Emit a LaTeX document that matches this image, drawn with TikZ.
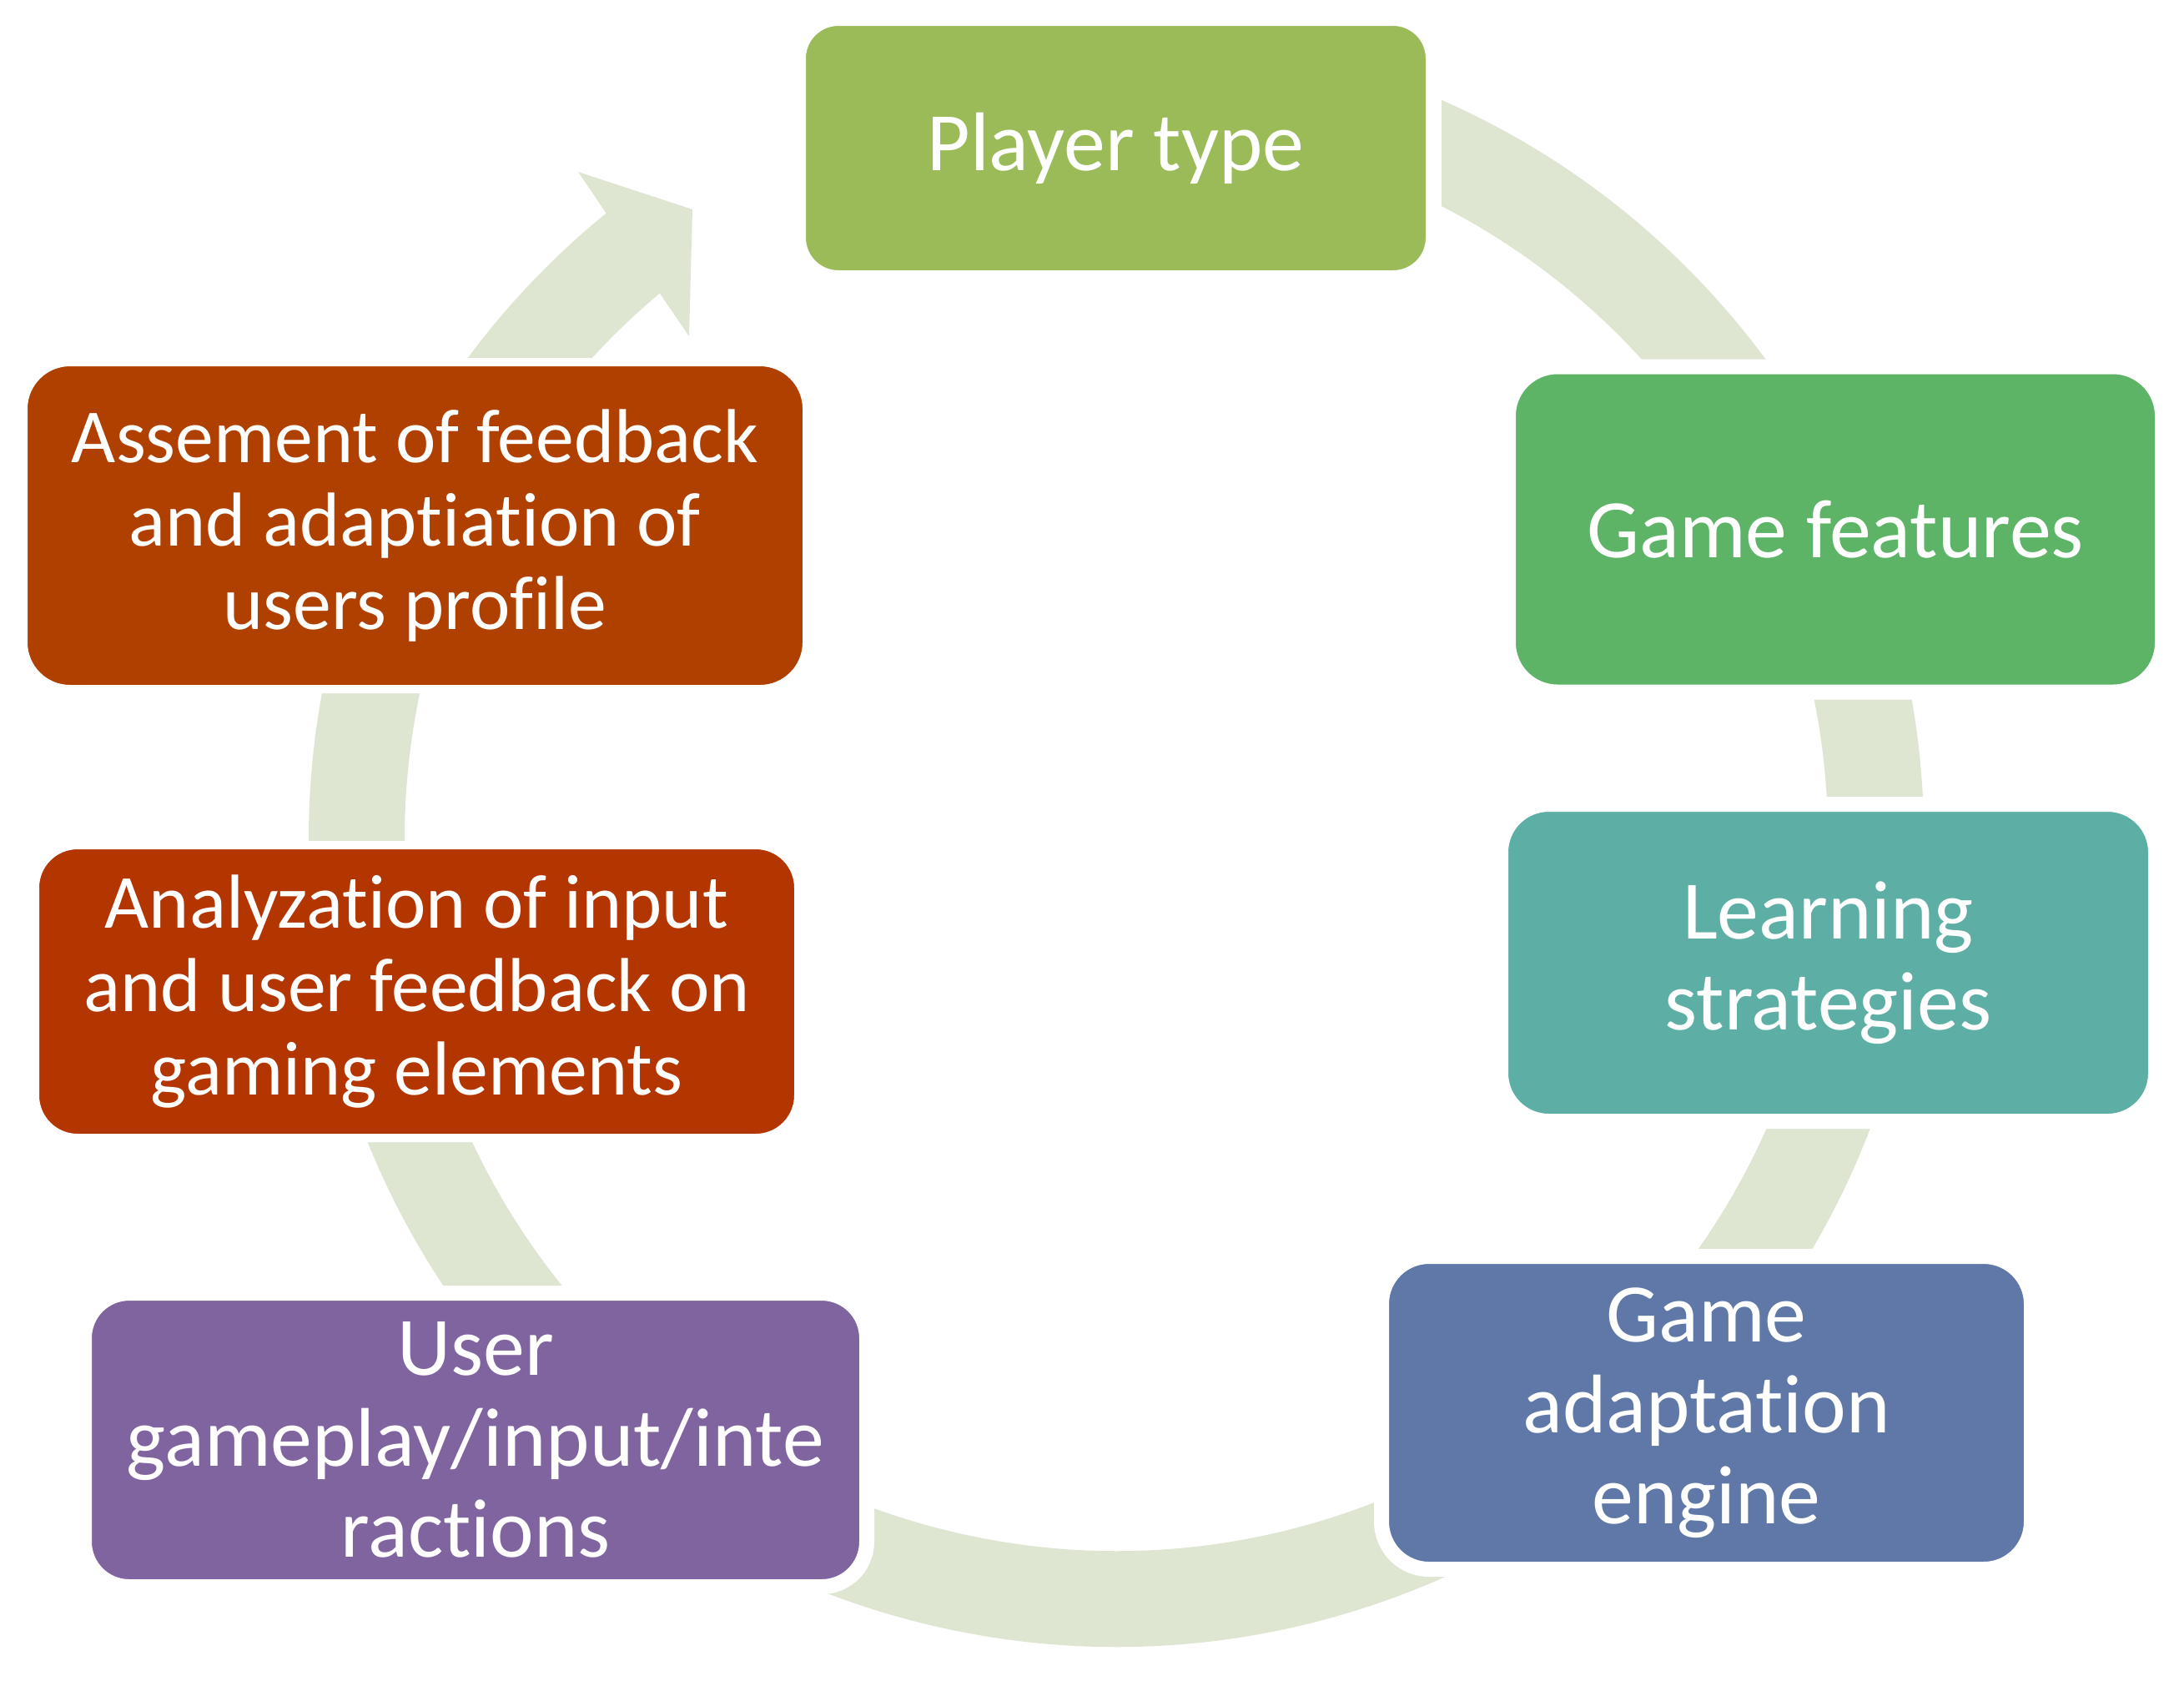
\documentclass[tikz,border=0pt]{standalone}
\usepackage{fontspec}
\setmainfont[Ligatures=NoCommon]{Carlito}
\definecolor{ringc}{HTML}{DEE6D2}
\definecolor{cplayer}{HTML}{9BBB59}
\definecolor{cfeat}{HTML}{5DB466}
\definecolor{clearn}{HTML}{5DAFA5}
\definecolor{cengine}{HTML}{6078A8}
\definecolor{cuser}{HTML}{8064A0}
\definecolor{canal}{HTML}{B33500}
\definecolor{cassess}{HTML}{B04000}
\tikzset{
  box/.style={draw=white, inner sep=0pt, outer sep=0pt, align=center, text=white},
  bigtxt/.style={font=\fontsize{28.4pt}{31pt}\selectfont},
  smalltxt/.style={font=\fontsize{26.1pt}{28.5pt}\selectfont},
}
\begin{document}
\begin{tikzpicture}
\useasboundingbox (0,0) rectangle (26.18,-20.14);
\coordinate (C) at (13.38,-10.06);
% ring band
\begin{scope}
\clip (17.28,0) -- (26.18,0) -- (26.18,-20.14) -- (0,-20.14) -- (0,-4.2) -- (17.28,-4.2) -- cycle;
\draw[ringc, line width=1.15cm] ([shift={(75:9.105)}]C) arc[start angle=75, end angle=-214, radius=9.105];
\end{scope}
% arrow head part
\fill[ringc] ([shift={(150:9.68)}]C) arc[start angle=150, end angle=129.17, radius=9.68]
  -- (6.93,-2.06) -- (8.30,-2.51) -- (8.26,-4.03)
  -- ([shift={(129.9:8.53)}]C) arc[start angle=129.9, end angle=150, radius=8.53] -- cycle;
% boxes
\node[box, bigtxt, fill=cplayer, line width=0.18cm, minimum width=7.61cm, minimum height=3.11cm, rounded corners=0.48cm] (player) at (13.375,-1.775) {Player type};
\node[box, bigtxt, fill=cfeat, line width=0.18cm, minimum width=7.84cm, minimum height=3.90cm, rounded corners=0.59cm] (features) at (22.00,-6.345) {Game features};
\node[box, bigtxt, fill=clearn, line width=0.18cm, minimum width=7.85cm, minimum height=3.80cm, rounded corners=0.575cm] (learning) at (21.915,-11.54) {Learning\\strategies};
\node[box, bigtxt, fill=cengine, line width=0.18cm, minimum width=7.79cm, minimum height=3.75cm, rounded corners=0.57cm] (engine) at (20.455,-16.935) {Game\\adaptation\\engine};
\node[box, bigtxt, fill=cuser, line width=0.18cm, minimum width=9.38cm, minimum height=3.52cm, rounded corners=0.54cm] (user) at (5.70,-17.26) {User\\gameplay/input/inte\\ractions};
\node[box, smalltxt, fill=canal, line width=0.10cm, minimum width=9.15cm, minimum height=3.51cm, rounded corners=0.51cm] (analyz) at (4.995,-11.885) {Analyzation of input\\and user feedback on\\gaming elements};
\node[box, smalltxt, fill=cassess, line width=0.10cm, minimum width=9.39cm, minimum height=3.92cm, rounded corners=0.56cm] (assess) at (4.975,-6.30) {Assement of feedback\\and adaptiation of\\users profile};
\end{tikzpicture}
\end{document}
